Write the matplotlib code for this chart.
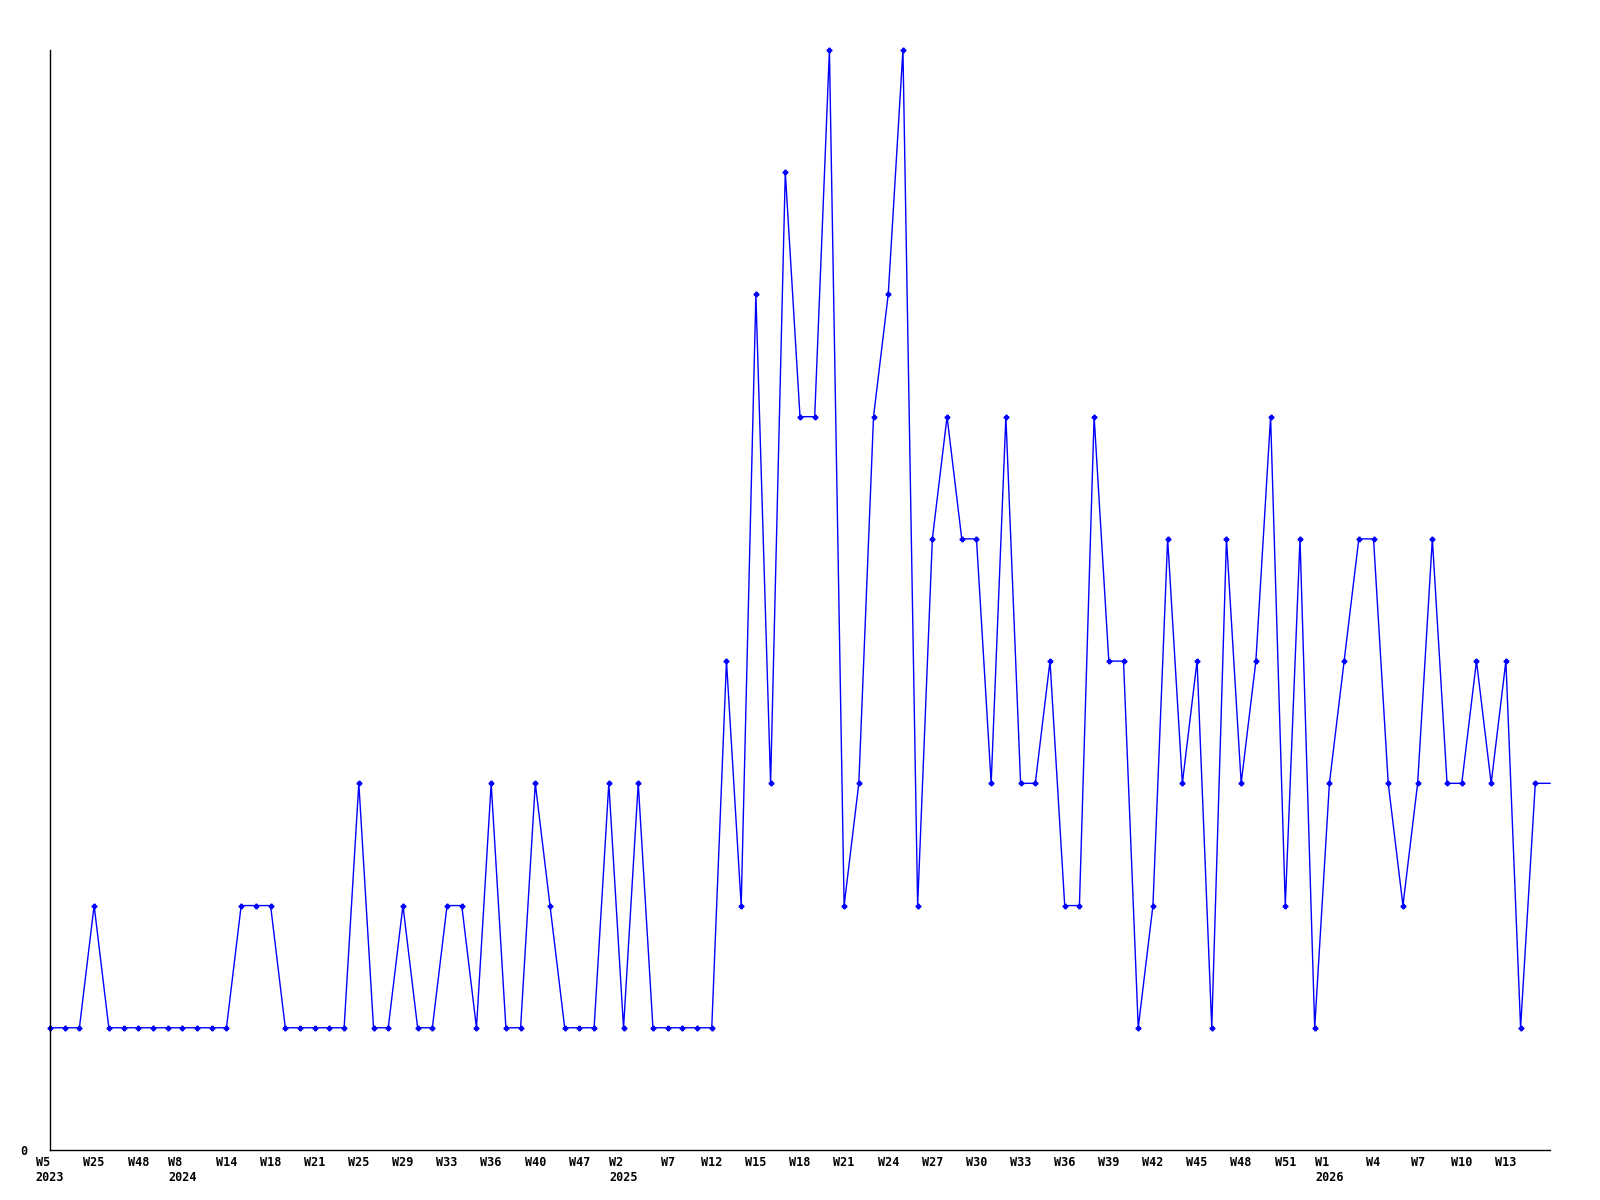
import matplotlib
matplotlib.use("Agg")
import matplotlib.pyplot as plt

# weekly counts, one entry per week that has data (last one is the running week)
counts = [
    1, 1, 1, 2, 1, 1, 1, 1, 1, 1, 1, 1, 1, 2, 2, 2, 1, 1, 1, 1,
    1, 3, 1, 1, 2, 1, 1, 2, 2, 1, 3, 1, 1, 3, 2, 1, 1, 1, 3, 1,
    3, 1, 1, 1, 1, 1, 4, 2, 7, 3, 8, 6, 6, 9, 2, 3, 6, 7, 9, 2,
    5, 6, 5, 5, 3, 6, 3, 3, 4, 2, 2, 6, 4, 4, 1, 2, 5, 3, 4, 1,
    5, 3, 4, 6, 2, 5, 1, 3, 4, 5, 5, 3, 2, 3, 5, 3, 3, 4, 3, 4,
    1, 3, 3,
]

# a label every third week
week_labels = [
    "W5\n2023", "W25", "W48", "W8\n2024", "W14", "W18", "W21", "W25", "W29",
    "W33", "W36", "W40", "W47", "W2\n2025", "W7", "W12", "W15", "W18", "W21",
    "W24", "W27", "W30", "W33", "W36", "W39", "W42", "W45", "W48", "W51",
    "W1\n2026", "W4", "W7", "W10", "W13",
]

x = list(range(len(counts)))
tick_pos = list(range(0, 3 * len(week_labels), 3))

fig = plt.figure(figsize=(16, 12), dpi=100)
ax = fig.add_axes([50 / 1600, 50 / 1200, 1500 / 1600, 1100 / 1200])

ax.plot(x, counts, color="#0000ff", linewidth=1.0, marker="P", markersize=3.2,
        markevery=list(range(len(counts) - 1)), clip_on=False)

ax.set_xlim(0, len(counts) - 1)
ax.set_ylim(0, max(counts))

ax.set_xticks(tick_pos)
ax.set_xticklabels(week_labels, family="DejaVu Sans Mono", fontweight="bold",
                   fontsize=8.5, linespacing=1.25, va="top", ha="center",
                   multialignment="left")

ax.set_yticks([0])
ax.set_yticklabels(["0"], family="DejaVu Sans Mono", fontweight="bold", fontsize=8.5)
ax.tick_params(axis="both", length=0)
ax.tick_params(axis="x", pad=4)
ax.tick_params(axis="y", pad=16)

for side in ["top", "right"]:
    ax.spines[side].set_visible(False)
for side in ["left", "bottom"]:
    ax.spines[side].set_linewidth(1)
    ax.spines[side].set_color("black")

fig.savefig("out.png", dpi=100)
